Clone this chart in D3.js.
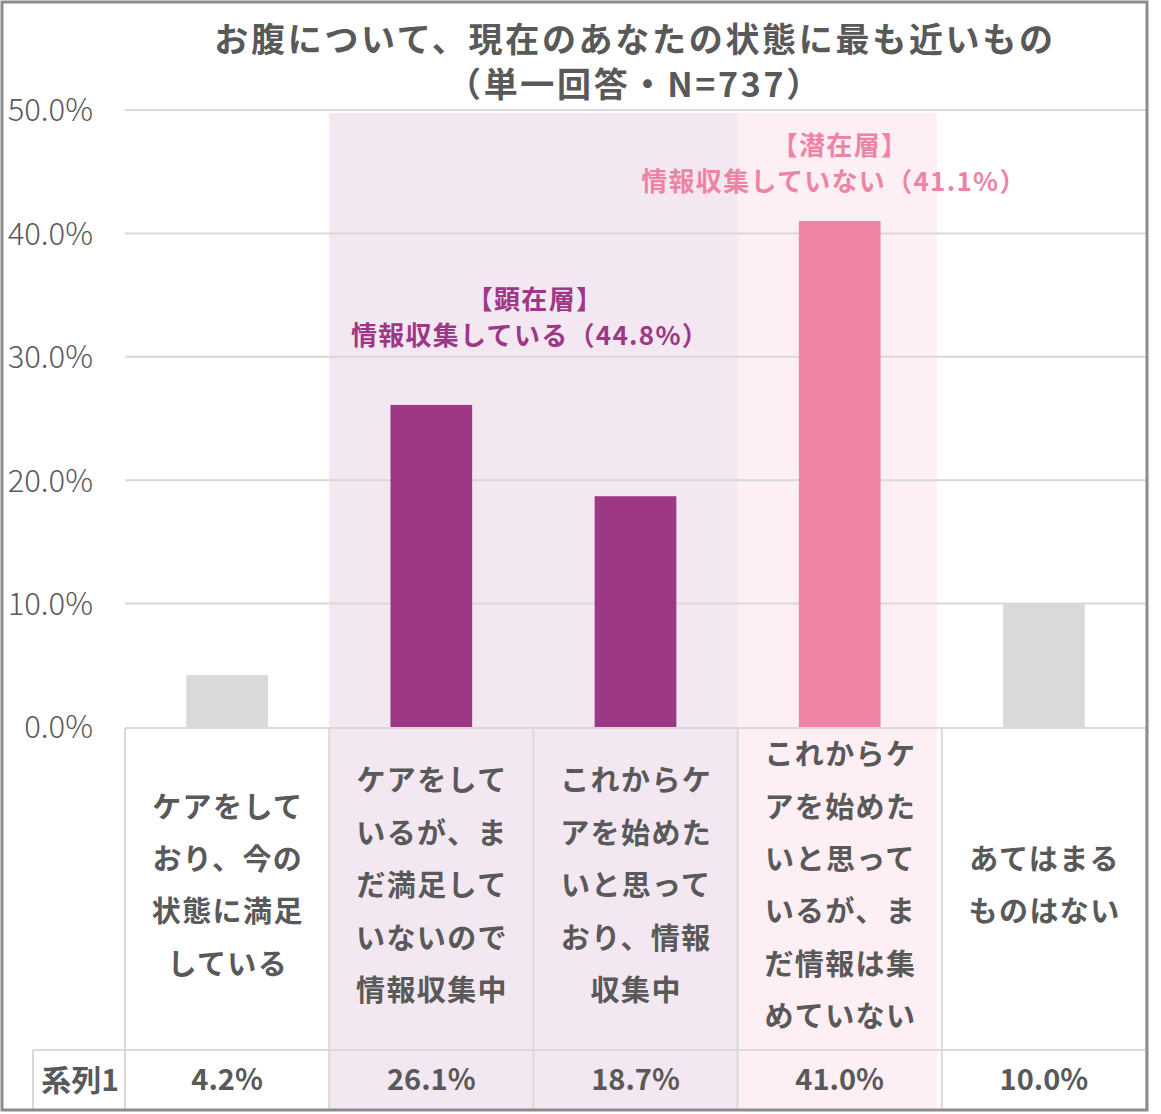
<!DOCTYPE html>
<html><head><meta charset="utf-8">
<script src="https://cdn.jsdelivr.net/npm/d3@7"></script>
<style>
html,body{margin:0;padding:0;background:#fff;}
svg{display:block;font-family:"Noto Sans CJK JP","Noto Sans",sans-serif;}
</style></head>
<body><svg id="chart" width="1161" height="1114"></svg>
<script>
const titleLines = ["お腹について、現在のあなたの状態に最も近いもの", "（単一回答・N=737）"];
const categories = ["c1","c2","c3","c4","c5"];
const categoryLabels = [
  ["ケアをして","おり、今の","状態に満足","している"],
  ["ケアをして","いるが、ま","だ満足して","いないので","情報収集中"],
  ["これからケ","アを始めた","いと思って","おり、情報","収集中"],
  ["これからケ","アを始めた","いと思って","いるが、ま","だ情報は集","めていない"],
  ["あてはまる","ものはない"]
];
const values = [4.2, 26.1, 18.7, 41.0, 10.0];
const valueLabels = ["4.2%","26.1%","18.7%","41.0%","10.0%"];
const seriesName = "系列1";
const barGroups = ["other","active","active","latent","other"];
const yTicks = [0,10,20,30,40,50];
const groupBands = [
  {group:"active", from:"c2", to:"c3", lines:["【顕在層】","情報収集している（44.8%）"]},
  {group:"latent", from:"c4", to:"c4", lines:["【潜在層】","情報収集していない（41.1%）"]}
];

const colors = {other:"#d9d9d9", active:"#9d3786", latent:"#ed84a3"};
const bandFill = {active:"#f3e8f1", latent:"#fdeff4"};
const textCol = "#595959";

const svg = d3.select("#chart");
const left = 125, right = 1146, plotTop = 110, plotBottom = 727;
const tableTop = 728, rowSep = 1050, tableBottom = 1110, seriesLeft = 33;

const x = d3.scaleBand().domain(categories).range([left, right]).paddingInner(0).paddingOuter(0);
const xb = d3.scaleBand().domain(categories).range([left, right]).paddingInner(0.6).paddingOuter(0.3);
const y = d3.scaleLinear().domain([0,50]).range([plotBottom, plotTop]);

// background bands
const latentEndPad = 5;
groupBands.forEach(g => {
  const x0 = x(g.from), x1 = x(g.to) + x.bandwidth() - (g.group==="latent"?latentEndPad:0);
  svg.append("rect").attr("x", x0).attr("y", y(50)+3).attr("width", x1-x0)
    .attr("height", tableBottom - y(50) - 3).attr("fill", bandFill[g.group]);
});

// gridlines
svg.append("g").selectAll("line").data(yTicks.filter(d=>d>0)).join("line")
  .attr("x1", left).attr("x2", right).attr("y1", d=>y(d)).attr("y2", d=>y(d))
  .attr("stroke", "#d9d9d9").attr("stroke-width", 2);

// y axis
const yAxis = d3.axisLeft(y).tickValues(yTicks).tickFormat(d=>d3.format(".1f")(d)+"%").tickSize(0).tickPadding(0);
const ya = svg.append("g").attr("transform", `translate(93,0)`).call(yAxis);
ya.select(".domain").remove();
ya.selectAll("text").attr("fill", textCol).attr("font-size", 31).attr("font-weight", 300)
  .attr("font-family", '"Noto Sans CJK JP", sans-serif').attr("dy", "0.35em");

// bars
svg.append("g").selectAll("rect").data(categories).join("rect")
  .attr("x", d=>xb(d)).attr("width", xb.bandwidth())
  .attr("y", (d,i)=>y(values[i])).attr("height", (d,i)=>plotBottom - y(values[i]))
  .attr("fill", (d,i)=>colors[barGroups[i]]);

// table lines
const tl = svg.append("g").attr("stroke", "#d9d9d9").attr("stroke-width", 2);
tl.append("line").attr("x1", left).attr("x2", right).attr("y1", tableTop).attr("y2", tableTop);
tl.append("line").attr("x1", seriesLeft).attr("x2", right).attr("y1", rowSep).attr("y2", rowSep);
tl.append("line").attr("x1", seriesLeft).attr("x2", seriesLeft).attr("y1", rowSep).attr("y2", tableBottom);
const vx = categories.map(c=>x(c)).concat([right]);
tl.selectAll(".v").data(vx).join("line").attr("class","v")
  .attr("x1", d=>d).attr("x2", d=>d).attr("y1", tableTop).attr("y2", tableBottom);

// category labels
const lh = 52.4, labelCenter = 886;
categories.forEach((c,i) => {
  const lines = categoryLabels[i];
  const t = svg.append("text").attr("text-anchor","middle").attr("fill", textCol)
    .attr("font-size", 29).attr("font-weight", 700).attr("letter-spacing", 1.4);
  lines.forEach((ln,j) => {
    t.append("tspan").attr("x", x(c) + x.bandwidth()/2 + 0.7)
      .attr("y", labelCenter + (j - (lines.length-1)/2)*lh).attr("dy","0.35em").text(ln);
  });
});

// value row
svg.append("g").selectAll("text").data(categories).join("text")
  .attr("x", d=>x(d)+x.bandwidth()/2).attr("y", 1080).attr("dy","0.35em")
  .attr("text-anchor","middle").attr("fill", textCol).attr("font-size", 29).attr("font-weight", 700)
  .text((d,i)=>valueLabels[i]);
svg.append("text").attr("x", (seriesLeft+left)/2 + 1).attr("y", 1080).attr("dy","0.35em")
  .attr("text-anchor","middle").attr("fill", textCol).attr("font-size", 30).attr("font-weight", 700)
  .text(seriesName);

// annotations
const annPos = {active:[{cx:535, y:300},{cx:530, y:336}], latent:[{cx:840, y:146},{cx:834, y:182}]};
groupBands.forEach(g => {
  const p = annPos[g.group];
  g.lines.forEach((ln,j)=> svg.append("text").attr("text-anchor","middle").attr("fill", colors[g.group])
    .attr("font-size", 26).attr("font-weight", 700).attr("letter-spacing", 1.3)
    .attr("x", p[j].cx).attr("y", p[j].y).attr("dy","0.35em").text(ln));
});

// title
const tt = svg.append("text").attr("text-anchor","middle").attr("fill", textCol)
  .attr("font-size", 34).attr("font-weight", 700).attr("letter-spacing", 2.7);
titleLines.forEach((ln,j)=> tt.append("tspan").attr("x", 635).attr("y", 40 + j*45).attr("dy","0.35em").text(ln));

// frame
svg.append("rect").attr("x", 2).attr("y", 2).attr("width", 1145).attr("height", 1108)
  .attr("fill","none").attr("stroke","#8c8c8c").attr("stroke-width", 3);
</script></body></html>
